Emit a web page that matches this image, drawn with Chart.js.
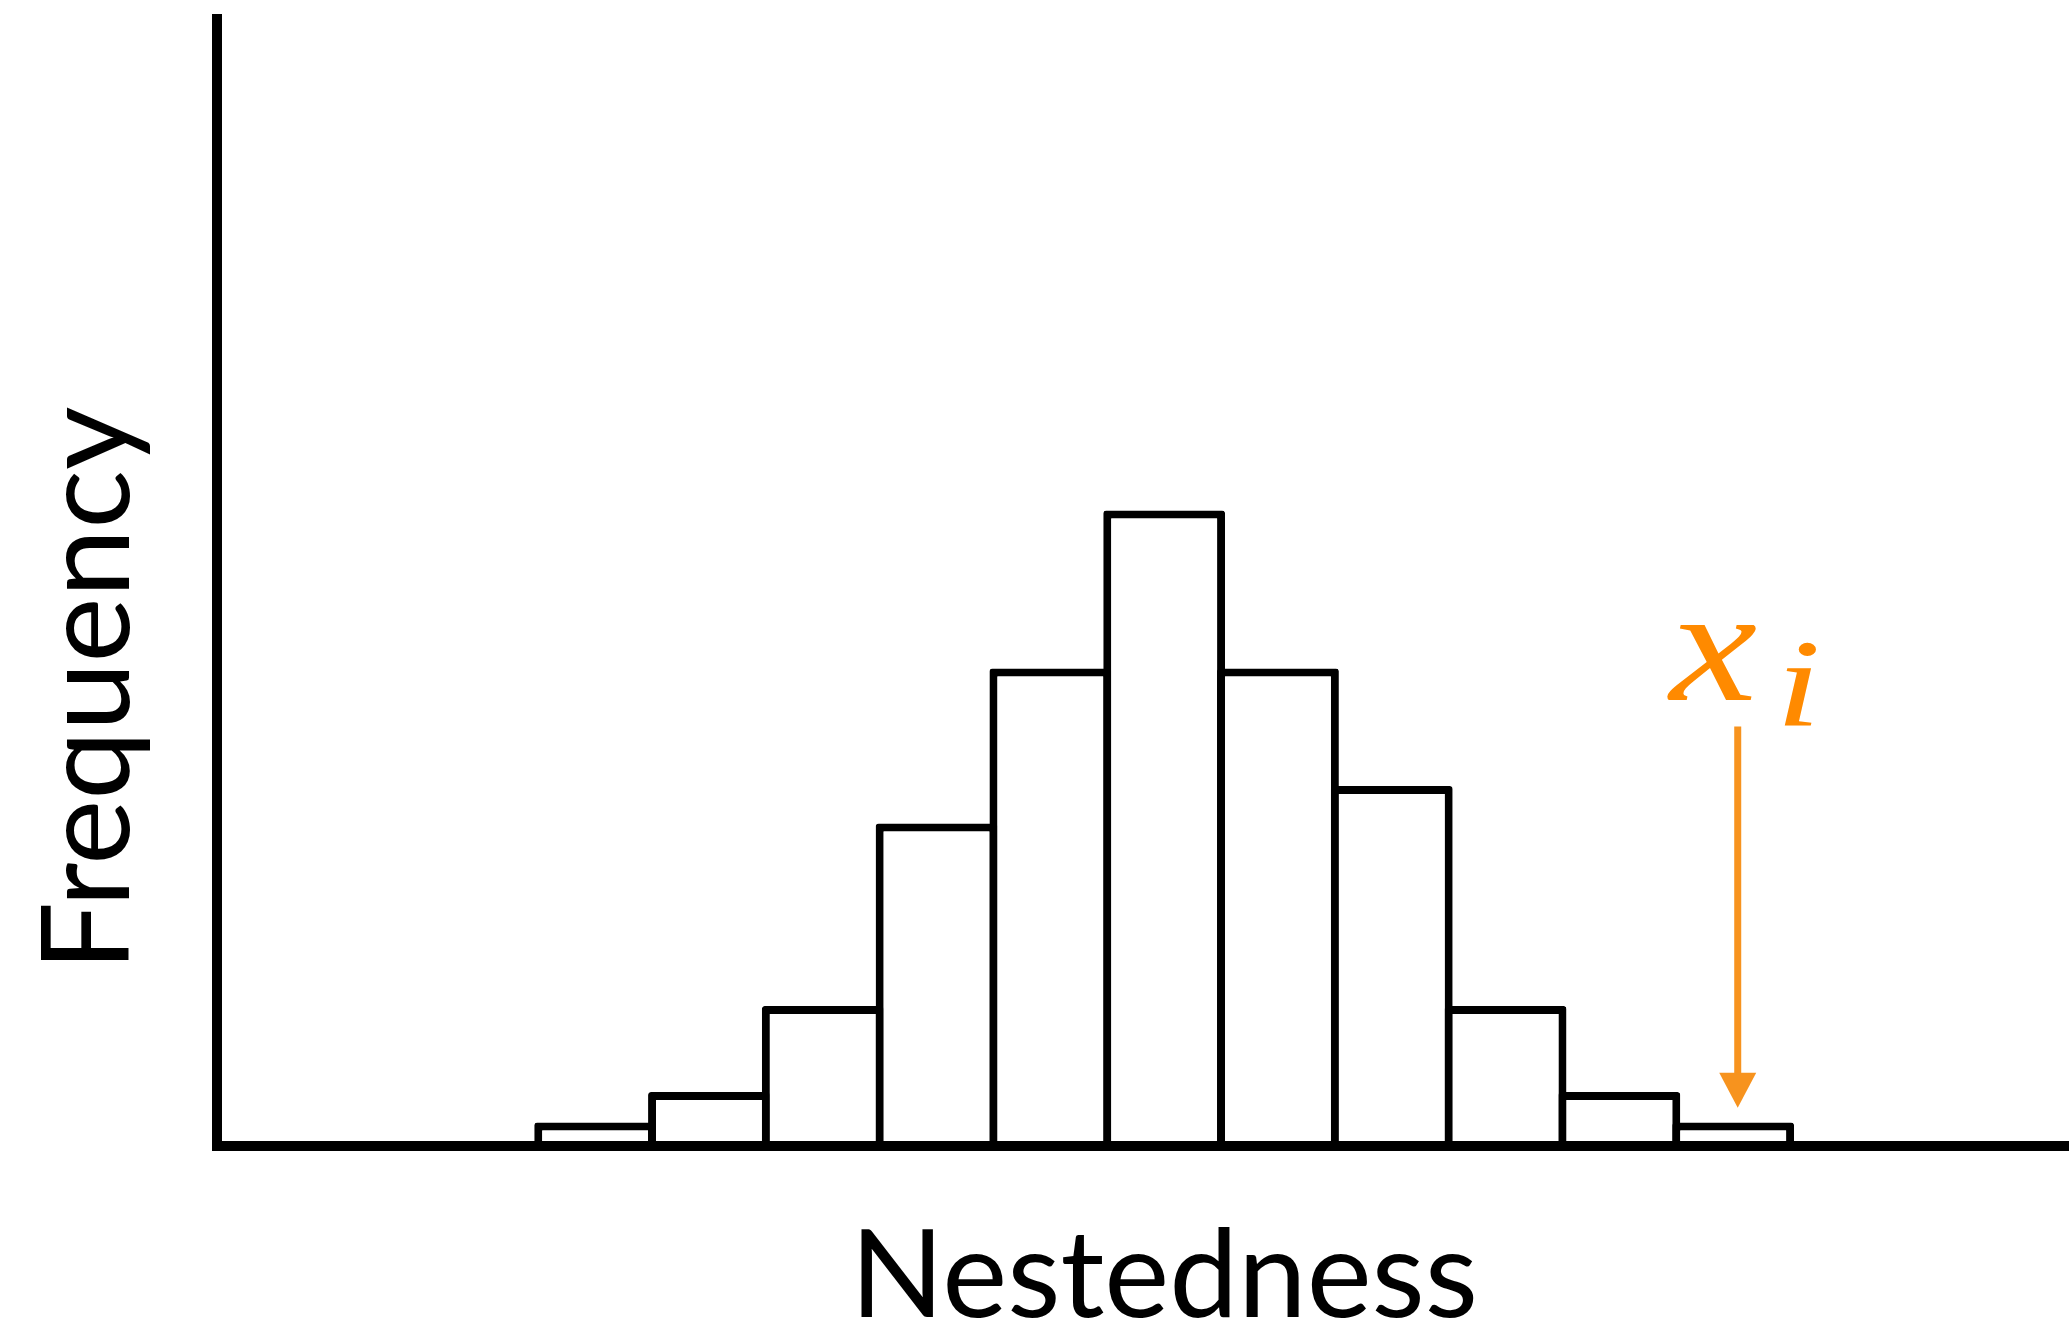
<!DOCTYPE html>
<html>
<head>
<meta charset="utf-8">
<script src="https://cdn.jsdelivr.net/npm/chart.js@4.4.1/dist/chart.umd.min.js"></script>
<style>
html, body { margin: 0; padding: 0; background: #fff; }
#wrap { width: 2069px; height: 1326px; position: relative; }
</style>
</head>
<body>
<div id="wrap"><canvas id="nestednessHistogram"></canvas></div>
<script>
// nestedness bins (bin centres, one unit wide) and how often each occurs
var binCenters = [1, 2, 3, 4, 5, 6, 7, 8, 9, 10, 11];
var frequencies = [1.5, 3.45, 8.95, 20.6, 30.5, 40.6, 30.5, 23, 8.95, 3.45, 1.5];

// the observed value x_i, pointed at by the orange arrow
var observedX = [11.04];
var arrowFrom = [26.8];
var arrowTo = [2.45];

var xTitle = 'Nestedness';
var yTitle = 'Frequency';

var arrowColor = '#F7931E';
var labelColor = '#FF8A00';

var annotate = {
    id: 'annotate',
    afterDatasetsDraw: function (chart) {
        var ctx = chart.ctx;
        var xs = chart.scales.x, ys = chart.scales.y;
        var ax = xs.getPixelForValue(observedX[0]);
        var top = ys.getPixelForValue(arrowFrom[0]);
        var tip = ys.getPixelForValue(arrowTo[0]);
        var head = 35;
        ctx.save();
        ctx.strokeStyle = arrowColor;
        ctx.lineWidth = 7;
        ctx.beginPath();
        ctx.moveTo(ax, top);
        ctx.lineTo(ax, tip - head + 2);
        ctx.stroke();
        ctx.fillStyle = arrowColor;
        ctx.beginPath();
        ctx.moveTo(ax - 18.5, tip - head);
        ctx.lineTo(ax + 18.5, tip - head);
        ctx.lineTo(ax, tip);
        ctx.closePath();
        ctx.fill();

        // x_i label above the arrow
        ctx.fillStyle = labelColor;
        ctx.textBaseline = 'alphabetic';
        ctx.textAlign = 'left';
        ctx.font = 'italic 164px "Liberation Serif"';
        ctx.save();
        ctx.translate(ax - 68, top - 27);
        ctx.scale(1.2, 1);
        ctx.fillText('x', 0, 0);
        ctx.restore();
        ctx.font = 'italic 125px "Liberation Serif"';
        ctx.save();
        ctx.translate(ax + 38, top - 1);
        ctx.scale(1.3, 1);
        ctx.fillText('i', 0, 0);
        ctx.restore();
        ctx.restore();
    },
    afterDraw: function (chart) {
        var ctx = chart.ctx;
        var xs = chart.scales.x;
        var mid = (binCenters[0] + binCenters[binCenters.length - 1]) / 2;
        ctx.save();
        ctx.fillStyle = '#000';
        ctx.font = '123px Lato';
        ctx.textAlign = 'center';
        ctx.textBaseline = 'alphabetic';
        ctx.fillText(xTitle, xs.getPixelForValue(mid), 1317);
        ctx.translate(129, 689);
        ctx.rotate(-Math.PI / 2);
        ctx.fillText(yTitle, 0, 0);
        ctx.restore();
    }
};

var chart_nestedness = new Chart(document.getElementById('nestednessHistogram'), {
    type: 'bar',
    data: {
        datasets: [{
            label: yTitle,
            data: binCenters.map(function (c, i) { return {x: c, y: frequencies[i]}; }),
            backgroundColor: '#fff',
            borderColor: '#000',
            borderWidth: 8,
            borderSkipped: 'start',
            borderRadius: 3,
            // walls of neighbouring bins overlap so they read as one line
            barPercentage: 1.0703,
            categoryPercentage: 1
        }]
    },
    options: {
        animation: false,
        responsive: true,
        maintainAspectRatio: false,
        devicePixelRatio: 1,
        layout: {
            padding: {left: 217, top: 19, right: 0, bottom: 180}
        },
        plugins: {
            legend: {display: false},
            tooltip: {enabled: false},
            title: {display: false}
        },
        scales: {
            x: {
                type: 'linear',
                offset: false,
                min: -2.323,
                max: 13.951,
                grid: {display: false, drawTicks: false, offset: false},
                ticks: {display: false},
                border: {display: true, color: '#000', width: 10, z: 1}
            },
            y: {
                type: 'linear',
                min: 0,
                max: 72,
                grid: {display: false, drawTicks: false},
                ticks: {display: false},
                border: {display: true, color: '#000', width: 10, z: 1}
            }
        }
    },
    plugins: [annotate]
});
</script>
</body>
</html>
